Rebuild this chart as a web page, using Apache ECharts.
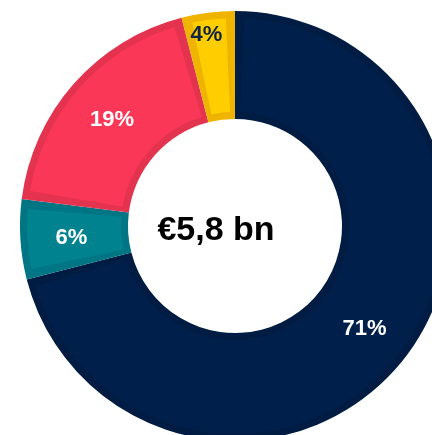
<!DOCTYPE html>
<html>
<head>
<meta charset="utf-8">
<script src="https://cdn.jsdelivr.net/npm/echarts@6/dist/echarts.min.js"></script>
<style>
  html, body { margin: 0; padding: 0; background: #fff; }
  #main { width: 432px; height: 435px; }
</style>
</head>
<body>
<div id="main"></div>
<script>
// shares in percent, clockwise from 12 o'clock
var segments = ['Segment A', 'Segment B', 'Segment C', 'Segment D'];
var shares = [71, 6, 19, 4];
var fillColors = ['#00204b', '#00838f', '#fb3757', '#ffcd00'];
var edgeColors = ['#001c43', '#007584', '#e4334f', '#efb400'];
var labelColors = ['#ffffff', '#ffffff', '#ffffff', '#0d2349'];
var totalText = '€5,8 bn';

var myChart = echarts.init(document.getElementById('main'));

// dark ring underneath gives the darker edge band
var edgeData = segments.map(function (n, i) {
    return { name: n, value: shares[i], itemStyle: { color: edgeColors[i] } };
});
var fillData = segments.map(function (n, i) {
    return {
        name: n,
        value: shares[i],
        itemStyle: { color: fillColors[i] },
        label: { color: labelColors[i] }
    };
});

var option = {
    animation: false,
    series: [{
        type: 'pie',
        center: [235, 226],
        radius: [107, 215],
        startAngle: 90,
        clockwise: true,
        silent: true,
        label: { show: false },
        labelLine: { show: false },
        data: edgeData
    }, {
        type: 'pie',
        center: [235, 226],
        radius: [114, 208],
        startAngle: 90,
        clockwise: true,
        padAngle: 5,
        silent: true,
        itemStyle: { borderWidth: 0 },
        label: {
            show: true,
            position: 'inside',
            formatter: '{c}%',
            fontFamily: 'Liberation Sans, Arial, sans-serif',
            fontWeight: 'bold',
            fontSize: 22
        },
        labelLine: { show: false },
        labelLayout: function (params) {
            // small slice: label sits further out near the rim
            if (params.dataIndex === 3) {
                return { dx: -8, dy: -28 };
            }
            return { dy: 2 };
        },
        data: fillData
    }],
    graphic: [{
        type: 'text',
        x: 216,
        y: 231,
        style: {
            text: totalText,
            fill: '#000',
            fontFamily: 'Liberation Sans, Arial, sans-serif',
            fontWeight: 'bold',
            fontSize: 34,
            textAlign: 'center',
            textVerticalAlign: 'middle'
        }
    }]
};

myChart.setOption(option);
</script>
</body>
</html>
